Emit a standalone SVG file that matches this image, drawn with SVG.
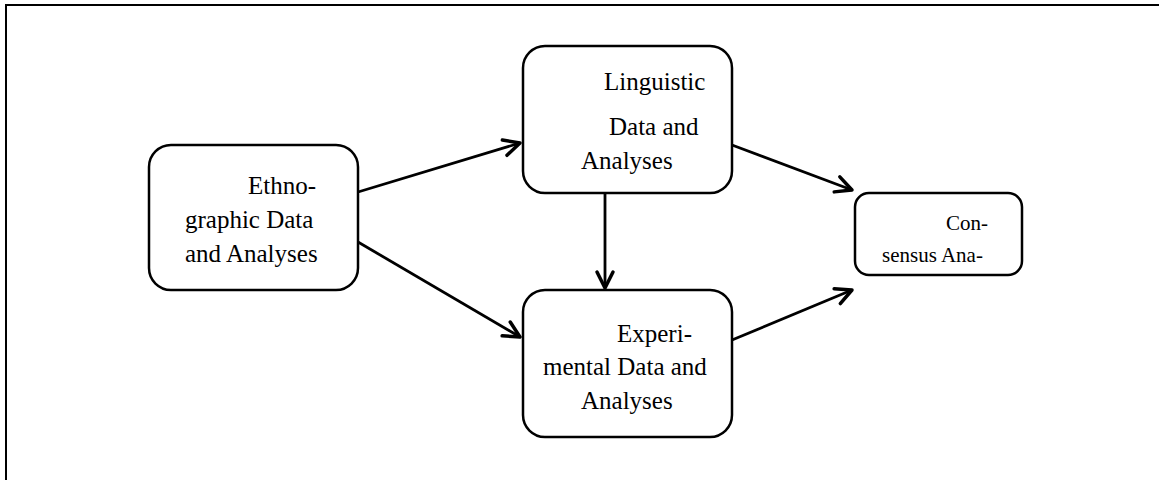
<svg xmlns="http://www.w3.org/2000/svg" width="1159" height="480" viewBox="0 0 1159 480">
<style>
.frame{fill:#fff;stroke:#000;stroke-width:2}
.box{fill:#fff;stroke:#000;stroke-width:2.5}
.t{font-family:"Liberation Serif","Times New Roman",serif;font-size:25px;fill:#000}
.ts{font-family:"Liberation Serif","Times New Roman",serif;font-size:21px;fill:#000}
.edge{stroke:#000;stroke-width:2.8;fill:none}
</style>
<defs>
<marker id="arr" markerUnits="userSpaceOnUse" markerWidth="22" markerHeight="22" viewBox="0 0 22 22" refX="19" refY="11" orient="auto">
<path d="M3,3 L19,11 L3,19" fill="none" stroke="#000" stroke-width="3.5" stroke-linecap="round" stroke-linejoin="round"/>
</marker>
</defs>
<rect class="frame" x="6" y="5" width="1170" height="490"/>
<g id="connectors">
<line class="edge" x1="358" y1="192" x2="520" y2="143" marker-end="url(#arr)"/>
<line class="edge" x1="358" y1="242" x2="520" y2="337" marker-end="url(#arr)"/>
<line class="edge" x1="605" y1="193" x2="605" y2="288" marker-end="url(#arr)"/>
<line class="edge" x1="732" y1="145" x2="852" y2="190" marker-end="url(#arr)"/>
<line class="edge" x1="732" y1="340" x2="852" y2="290" marker-end="url(#arr)"/>
</g>
<g id="ethnographic">
<rect class="box" x="149" y="145" width="209" height="145" rx="22"/>
<text class="t" x="248" y="194">Ethno-</text>
<text class="t" x="185" y="228">graphic Data</text>
<text class="t" x="185" y="262">and Analyses</text>
</g>
<g id="linguistic">
<rect class="box" x="523" y="46" width="209" height="147" rx="22"/>
<text class="t" x="604" y="90">Linguistic</text>
<text class="t" x="609" y="135">Data and</text>
<text class="t" x="581" y="169">Analyses</text>
</g>
<g id="experimental">
<rect class="box" x="523" y="290" width="209" height="147" rx="22"/>
<text class="t" x="617" y="342">Experi-</text>
<text class="t" x="543" y="375">mental Data and</text>
<text class="t" x="581" y="409">Analyses</text>
</g>
<g id="consensus">
<rect class="box" x="855" y="193" width="167" height="82" rx="14"/>
<text class="ts" x="946" y="230">Con-</text>
<text class="ts" x="882" y="262">sensus Ana-</text>
</g>
</svg>
